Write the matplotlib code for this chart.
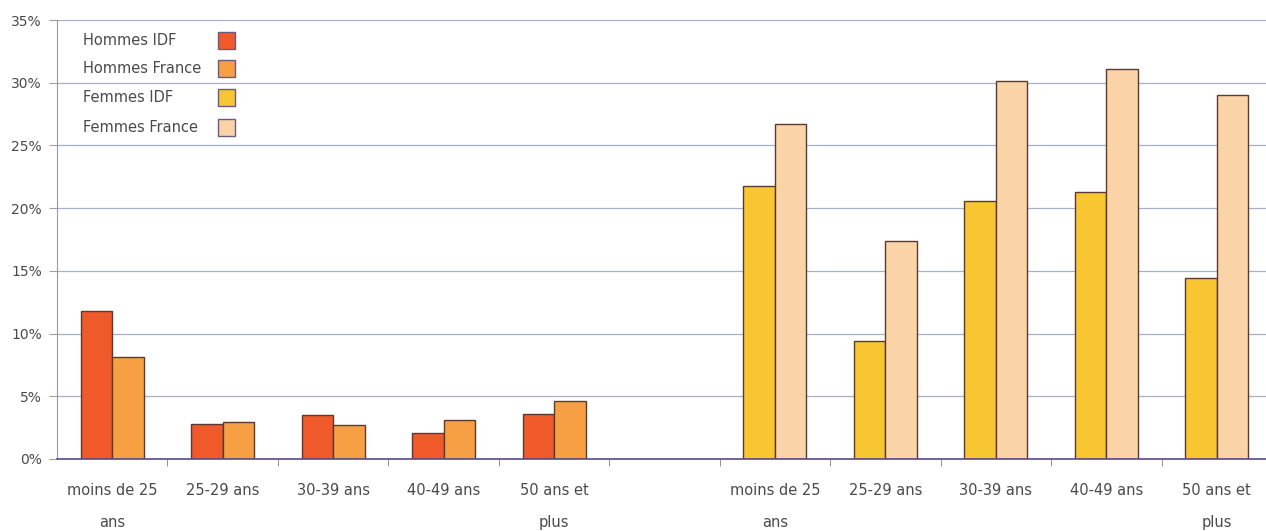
import numpy as np
from matplotlib import pyplot as plt
from matplotlib.patches import Rectangle
from matplotlib.ticker import FixedLocator, NullFormatter

# Age groups (men block, empty slot, women block)
ages = ['moins de 25\nans', '25-29 ans', '30-39 ans', '40-49 ans', '50 ans et\nplus']
labels = ages + [''] + ages

hommes_idf = [11.8, 2.8, 3.5, 2.05, 3.6]
hommes_france = [8.1, 2.95, 2.7, 3.1, 4.6]
femmes_idf = [21.8, 9.4, 20.6, 21.3, 14.4]
femmes_france = [26.7, 17.4, 30.1, 31.1, 29.0]

series_names = ['Hommes IDF', 'Hommes France', 'Femmes IDF', 'Femmes France']
colors = ['#f05a2a', '#f6a043', '#f8c630', '#fad3a6']
edge = '#5a3a30'
text_col = '#4a4a4a'

fig = plt.figure(figsize=(12.66, 5.31), dpi=100)
ax = fig.add_axes([57 / 1266, 72 / 531, 1215 / 1266, 439 / 531])

w = 0.285
x_men = np.arange(5)
x_women = np.arange(5) + 6

ax.bar(x_men - w / 2, hommes_idf, w, color=colors[0], edgecolor=edge, linewidth=1, zorder=3)
ax.bar(x_men + w / 2, hommes_france, w, color=colors[1], edgecolor=edge, linewidth=1, zorder=3)
ax.bar(x_women - w / 2, femmes_idf, w, color=colors[2], edgecolor=edge, linewidth=1, zorder=3)
ax.bar(x_women + w / 2, femmes_france, w, color=colors[3], edgecolor=edge, linewidth=1, zorder=3)

ax.set_xlim(-0.5, 10.5)
ax.set_ylim(0, 35)
ax.set_yticks(np.arange(0, 36, 5))
ax.set_yticklabels([f'{v}%' for v in range(0, 36, 5)], color=text_col, fontsize=10)
ax.yaxis.grid(True, color='#a8b0c8', linewidth=0.9, zorder=0)

# category labels at centres, tick marks at slot boundaries
ax.set_xticks(np.arange(11))
ax.set_xticklabels(labels, color=text_col, fontsize=10.5, linespacing=2.45)
ax.tick_params(axis='x', which='major', length=0, pad=17)
ax.xaxis.set_minor_locator(FixedLocator(np.arange(0.5, 10.5, 1)))
ax.xaxis.set_minor_formatter(NullFormatter())
ax.tick_params(axis='x', which='minor', length=5, color='#808080', direction='out')
ax.tick_params(axis='y', length=6, color='#a0a0a0', pad=5)

for s in ['top', 'right']:
    ax.spines[s].set_visible(False)
ax.spines['left'].set_color('#9a9a9a')
ax.spines['bottom'].set_color('#5a4a8a')
ax.spines['bottom'].set_linewidth(1.2)
ax.spines['bottom'].set_zorder(4)

# legend: labels left, coloured squares in a column on the right
rows_px = [40, 68.5, 97.5, 127]
for name, col, ypx in zip(series_names, colors, rows_px):
    ya = (459 - ypx) / 439
    ax.text((83 - 57) / 1215, ya, name, transform=ax.transAxes, ha='left', va='center',
            fontsize=10.5, color=text_col)
    ax.add_patch(Rectangle(((218 - 57) / 1215, ya - 8.5 / 439), 17 / 1215, 17 / 439,
                           transform=ax.transAxes, facecolor=col, edgecolor='#6a5a8a',
                           linewidth=1, zorder=5))

fig.savefig('out.png', dpi=100)
